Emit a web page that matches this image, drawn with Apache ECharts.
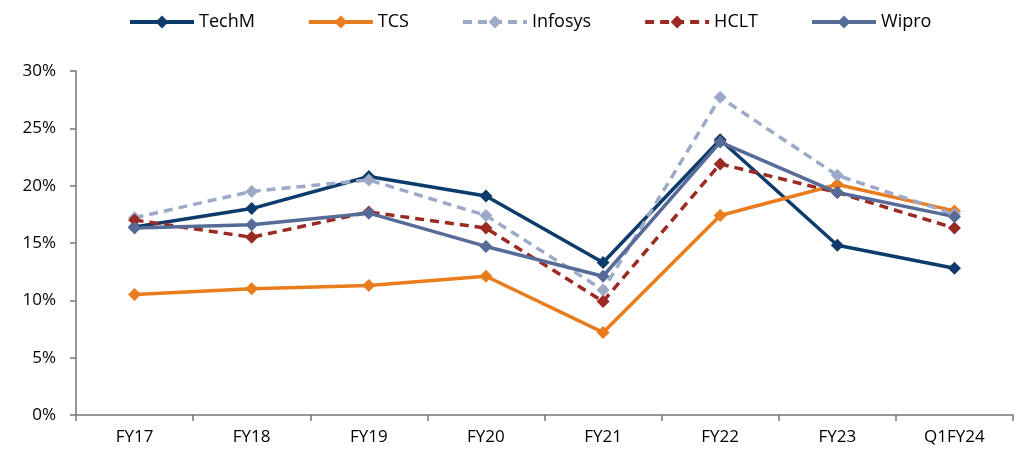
<!DOCTYPE html>
<html><head><meta charset="utf-8">
<script src="https://cdn.jsdelivr.net/npm/echarts@6/dist/echarts.min.js"></script>
<style>html,body{margin:0;padding:0;background:#fff}#c{width:1023px;height:452px}</style>
</head><body><div id="c"></div>
<script>
const categories = ['FY17','FY18','FY19','FY20','FY21','FY22','FY23','Q1FY24'];
const techM   = [16.4, 18.0, 20.8, 19.1, 13.3, 24.0, 14.8, 12.8];
const tcs     = [10.5, 11.0, 11.3, 12.1, 7.2, 17.4, 20.1, 17.8];
const infosys = [17.2, 19.5, 20.5, 17.4, 10.9, 27.7, 20.9, 17.5];
const hclt    = [17.0, 15.5, 17.7, 16.3, 9.9, 21.9, 19.4, 16.3];
const wipro   = [16.3, 16.6, 17.6, 14.7, 12.1, 23.8, 19.4, 17.3];
const yTicks  = [0, 5, 10, 15, 20, 25, 30];

const font = 'Open Sans';
function mk(name, data, color, dashed) {
  return {
    name, type: 'line', data,
    symbol: 'diamond', symbolSize: 13,
    lineStyle: { color, width: 3.5, type: dashed ? [9, 6] : 'solid' },
    itemStyle: { color },
    emphasis: { disabled: true }
  };
}
const chart = echarts.init(document.getElementById('c'));
chart.setOption({
  animation: false,
  textStyle: { fontFamily: font },
  legend: {
    top: 8, left: 123, itemWidth: 64, itemHeight: 16, itemGap: 52,
    lineStyle: { width: 4 },
    textStyle: { fontSize: 18, color: '#000', fontFamily: font }
  },
  grid: { left: 76, right: 10, top: 71, bottom: 37 },
  xAxis: {
    type: 'category', data: categories, boundaryGap: true,
    axisLine: { lineStyle: { color: '#767676', width: 1.5 } },
    axisTick: { show: true, length: 6, lineStyle: { color: '#767676', width: 1.5 } },
    axisLabel: { fontSize: 17, color: '#000', margin: 14, fontFamily: font }
  },
  yAxis: {
    type: 'value', min: yTicks[0], max: yTicks[yTicks.length - 1], interval: 5,
    axisLine: { show: true, lineStyle: { color: '#767676', width: 1.5 } },
    axisTick: { show: true, inside: false, length: 6, lineStyle: { color: '#767676', width: 1.5 } },
    splitLine: { show: false },
    axisLabel: { fontSize: 17, color: '#000', margin: 20, fontFamily: font, formatter: v => v + '%' }
  },
  series: [
    mk('TechM', techM, '#0D3B6B', false),
    mk('TCS', tcs, '#E97C1D', false),
    mk('Infosys', infosys, '#9CAAC7', true),
    mk('HCLT', hclt, '#9A2A22', true),
    mk('Wipro', wipro, '#566B97', false)
  ]
});
</script></body></html>
